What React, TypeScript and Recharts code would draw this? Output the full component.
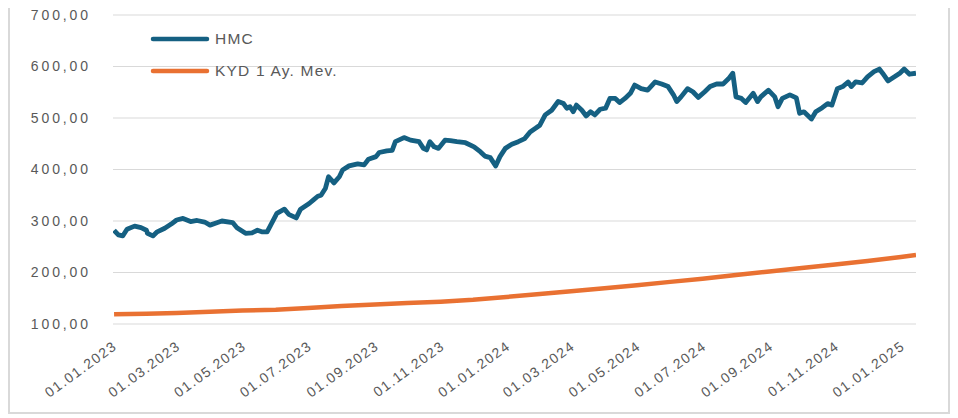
import React from "react";
import { LineChart, Line, XAxis, YAxis, CartesianGrid, Legend } from "recharts";

const hmcDates = [
  "2023-01-02", "2023-01-06", "2023-01-10", "2023-01-14", "2023-01-21", "2023-01-27",
  "2023-02-01", "2023-02-02", "2023-02-07", "2023-02-11", "2023-02-18", "2023-02-24",
  "2023-03-01", "2023-03-07", "2023-03-14", "2023-03-20", "2023-03-27", "2023-04-01",
  "2023-04-08", "2023-04-12", "2023-04-22", "2023-04-26", "2023-05-04", "2023-05-10",
  "2023-05-15", "2023-05-19", "2023-05-24", "2023-05-29", "2023-06-02", "2023-06-09",
  "2023-06-13", "2023-06-20", "2023-06-24", "2023-07-02", "2023-07-06", "2023-07-10",
  "2023-07-13", "2023-07-17", "2023-07-20", "2023-07-25", "2023-07-30", "2023-08-02",
  "2023-08-08", "2023-08-16", "2023-08-22", "2023-08-26", "2023-09-02", "2023-09-05",
  "2023-09-12", "2023-09-17", "2023-09-20", "2023-09-28", "2023-10-04", "2023-10-12",
  "2023-10-16", "2023-10-19", "2023-10-22", "2023-10-26", "2023-10-30", "2023-11-05",
  "2023-11-10", "2023-11-16", "2023-11-24", "2023-12-02", "2023-12-08", "2023-12-12",
  "2023-12-17", "2023-12-22", "2023-12-26", "2023-12-31", "2024-01-06", "2024-01-12",
  "2024-01-18", "2024-01-23", "2024-01-28", "2024-02-01", "2024-02-06", "2024-02-12",
  "2024-02-18", "2024-02-23", "2024-02-26", "2024-02-29", "2024-03-03", "2024-03-06",
  "2024-03-11", "2024-03-15", "2024-03-19", "2024-03-23", "2024-03-28", "2024-04-02",
  "2024-04-06", "2024-04-11", "2024-04-15", "2024-04-20", "2024-04-25", "2024-04-29",
  "2024-05-05", "2024-05-11", "2024-05-18", "2024-05-24", "2024-05-30", "2024-06-04",
  "2024-06-07", "2024-06-11", "2024-06-17", "2024-06-22", "2024-06-27", "2024-07-03",
  "2024-07-08", "2024-07-14", "2024-07-20", "2024-07-25", "2024-07-29", "2024-08-01",
  "2024-08-06", "2024-08-10", "2024-08-17", "2024-08-21", "2024-08-24", "2024-08-31",
  "2024-09-06", "2024-09-09", "2024-09-13", "2024-09-20", "2024-09-26", "2024-09-29",
  "2024-10-03", "2024-10-10", "2024-10-14", "2024-10-20", "2024-10-25", "2024-10-29",
  "2024-11-03", "2024-11-08", "2024-11-13", "2024-11-16", "2024-11-20", "2024-11-26",
  "2024-12-01", "2024-12-07", "2024-12-12", "2024-12-15", "2024-12-20", "2024-12-26",
  "2024-12-31", "2025-01-04", "2025-01-09", "2025-01-15",
];

const hmcValues = [
  282, 273, 271, 284, 290, 287,
  282, 276, 271, 279, 286, 294,
  302, 305, 299, 301, 298, 292,
  297, 300, 297, 287, 276, 277,
  282, 279, 279, 299, 315, 323,
  313, 306, 323, 334, 341, 348,
  350, 363, 386, 374, 386, 399,
  407, 411, 409, 420, 425, 433,
  436, 437, 454, 462, 457, 454,
  441, 438, 454, 444, 441, 457,
  456, 454, 452, 444, 434, 426,
  423, 407, 425, 441, 449, 454,
  460, 473, 480, 486, 506, 515,
  532, 528, 519, 522, 512, 525,
  515, 504, 512, 506, 517, 519,
  538, 538, 530, 538, 548, 564,
  557, 554, 570, 566, 561, 545,
  532, 541, 557, 551, 540, 551,
  561, 566, 566, 576, 587, 541,
  538, 530, 548, 532, 541, 554,
  541, 522, 538, 545, 539, 509,
  512, 498, 512, 520, 528, 525,
  557, 561, 570, 561, 570, 568,
  580, 590, 595, 587, 572, 580,
  587, 595, 585, 587,
];

const kydDates = [
  "2023-01-02", "2023-02-01", "2023-03-01", "2023-04-01", "2023-05-01", "2023-06-01",
  "2023-07-01", "2023-08-01", "2023-09-01", "2023-10-01", "2023-11-01", "2023-12-01",
  "2024-01-01", "2024-02-01", "2024-03-01", "2024-04-01", "2024-05-01", "2024-06-01",
  "2024-07-01", "2024-08-01", "2024-09-01", "2024-10-01", "2024-11-01", "2024-12-01",
  "2025-01-01", "2025-01-15",
];

const kydValues = [
  118.8, 120, 121.5, 124, 126, 127.8,
  131, 134.8, 138, 140.6, 143.2, 147,
  152.5, 158.2, 163.5, 169.5, 175.4, 181.8,
  187.8, 195, 202, 208.8, 215.5, 222.5,
  230, 234,
];

const xTickDates = [
  "2023-01-01", "2023-03-01", "2023-05-01", "2023-07-01", "2023-09-01", "2023-11-01",
  "2024-01-01", "2024-03-01", "2024-05-01", "2024-07-01", "2024-09-01", "2024-11-01",
  "2025-01-01",
];

const yTicks = [100, 200, 300, 400, 500, 600, 700];

const toTime = (s: string) => new Date(s + "T00:00:00Z").getTime();

const hmcData = hmcDates.map((d, i) => ({ t: toTime(d), value: hmcValues[i] }));
const kydData = kydDates.map((d, i) => ({ t: toTime(d), value: kydValues[i] }));
const xTicks = xTickDates.map(toTime);

const FONT = "'Liberation Sans', Arial, sans-serif";
const TEXT_COLOR = "#595959";

const formatDate = (t: number) => {
  const d = new Date(t);
  const dd = String(d.getUTCDate()).padStart(2, "0");
  const mm = String(d.getUTCMonth() + 1).padStart(2, "0");
  return `${dd}.${mm}.${d.getUTCFullYear()}`;
};

const formatValue = (v: number) => v.toFixed(2).replace(".", ",");

const DateTick = ({ x, y, payload }: any) => {
  const tx = x + 5;
  const ty = y + 24;
  return (
    <text
      x={tx}
      y={ty}
      textAnchor="end"
      fontSize={14}
      fontFamily={FONT}
      letterSpacing={1.5}
      fill={TEXT_COLOR}
      transform={`rotate(-36, ${tx}, ${ty})`}
    >
      {formatDate(payload.value)}
    </text>
  );
};

const renderLegend = (props: any) => {
  const { payload } = props;
  return (
    <svg width={260} height={60}>
      {payload.map((entry: any, i: number) => (
        <g key={`legend-${i}`}>
          <line
            x1={4}
            x2={58}
            y1={10 + i * 32}
            y2={10 + i * 32}
            stroke={entry.color}
            strokeWidth={4.5}
            strokeLinecap="round"
          />
          <text
            x={66}
            y={10 + i * 32}
            dy="0.35em"
            fontSize={15.5}
            fontFamily={FONT}
            letterSpacing={1.2}
            fill={TEXT_COLOR}
          >
            {entry.value}
          </text>
        </g>
      ))}
    </svg>
  );
};

export default function App() {
  return (
    <div
      style={{
        width: 938,
        height: 404,
        borderLeft: "2px solid #d9d9d9",
        borderRight: "2px solid #d9d9d9",
        borderBottom: "2px solid #d9d9d9",
        background: "#fff",
      }}
    >
      <LineChart width={938} height={404} margin={{ top: 7, right: 32, bottom: 0, left: 0 }}>
        <CartesianGrid vertical={false} stroke="#d9d9d9" strokeWidth={1.2} />
        <XAxis
          dataKey="t"
          type="number"
          domain={[toTime("2023-01-01"), toTime("2025-01-15")]}
          ticks={xTicks}
          tick={<DateTick />}
          tickLine={false}
          axisLine={false}
          tickSize={0}
          tickMargin={0}
          height={88}
          interval={0}
          allowDataOverflow
        />
        <YAxis
          type="number"
          domain={[100, 700]}
          ticks={yTicks}
          tickFormatter={formatValue}
          tickLine={false}
          axisLine={false}
          tickSize={0}
          tickMargin={22}
          width={103}
          tick={{ fontSize: 14, fontFamily: FONT, fill: TEXT_COLOR, letterSpacing: 2.9 }}
          interval={0}
        />
        <Legend
          layout="vertical"
          align="center"
          verticalAlign="middle"
          content={renderLegend}
          wrapperStyle={{ left: 139, top: 21, width: 260 }}
        />
        <Line
          data={hmcData}
          dataKey="value"
          name="HMC"
          type="linear"
          stroke="#156082"
          strokeWidth={4.8}
          strokeLinejoin="round"
          dot={false}
          activeDot={false}
          isAnimationActive={false}
        />
        <Line
          data={kydData}
          dataKey="value"
          name="KYD 1 Ay. Mev."
          type="linear"
          stroke="#E97132"
          strokeWidth={4.5}
          strokeLinejoin="round"
          dot={false}
          activeDot={false}
          isAnimationActive={false}
        />
      </LineChart>
    </div>
  );
}
